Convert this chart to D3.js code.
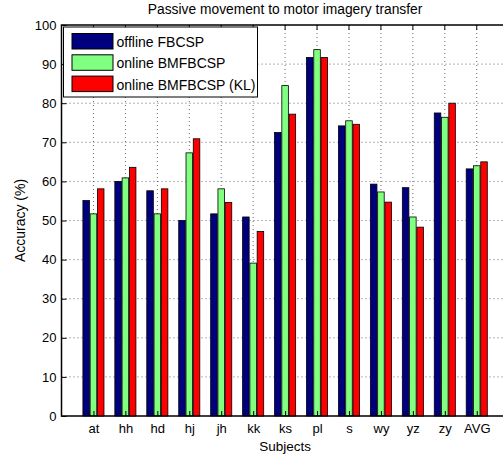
<!DOCTYPE html>
<html>
<head>
<meta charset="utf-8">
<script src="https://cdn.jsdelivr.net/npm/d3@7"></script>
<style>
  body { margin: 0; background: #fff; }
  svg { display: block; font-family: "Liberation Sans", Arial, sans-serif; }
  .grid line { stroke: #444; stroke-dasharray: 1,3; stroke-width: 0.8; }
</style>
</head>
<body>
<svg id="chart" width="503" height="462"></svg>
<script>
// data
var subjects = ["at", "hh", "hd", "hj", "jh", "kk", "ks", "pl", "s", "wy", "yz", "zy", "AVG"];
var offlineFBCSP = [55.1, 60.0, 57.6, 50.0, 51.7, 50.9, 72.5, 91.7, 74.2, 59.3, 58.4, 77.5, 63.2];
var onlineBMFBCSP = [51.7, 60.9, 51.7, 67.3, 58.1, 39.1, 84.5, 93.7, 75.5, 57.3, 50.9, 76.4, 64.0];
var onlineBMFBCSPKL = [58.1, 63.6, 58.1, 70.9, 54.6, 47.2, 77.2, 91.7, 74.6, 54.7, 48.3, 80.0, 65.0];
var seriesNames = ["offline FBCSP", "online BMFBCSP", "online BMFBCSP (KL)"];
var seriesColors = ["#00007f", "#80ff80", "#ff0000"];
var yTicks = [0, 10, 20, 30, 40, 50, 60, 70, 80, 90, 100];

var series = [offlineFBCSP, onlineBMFBCSP, onlineBMFBCSPKL];

var svg = d3.select("#chart");
var pLeft = 61.5, pRight = 508.7, pTop = 25, pBottom = 416;

var x = d3.scaleLinear().domain([0, subjects.length + 1]).range([pLeft, pRight]);
var y = d3.scaleLinear().domain([0, 100]).range([pBottom, pTop]);
var step = x(1) - x(0);
var xs = d3.scaleBand().domain(d3.range(series.length))
    .range([-step * 0.33, step * 0.33]).paddingInner(0.1);

// grid
var grid = svg.append("g").attr("class", "grid");
grid.selectAll("line.h").data(yTicks.slice(1, -1)).enter().append("line")
    .attr("x1", pLeft).attr("x2", pRight)
    .attr("y1", function (d) { return y(d); }).attr("y2", function (d) { return y(d); });
grid.selectAll("line.v").data(subjects).enter().append("line")
    .attr("x1", function (d, i) { return x(i + 1); }).attr("x2", function (d, i) { return x(i + 1); })
    .attr("y1", pTop).attr("y2", pBottom);

// bars
var groups = svg.selectAll("g.series").data(series).enter().append("g").attr("class", "series")
    .attr("fill", function (d, i) { return seriesColors[i]; });
groups.each(function (vals, si) {
    d3.select(this).selectAll("rect").data(vals).enter().append("rect")
        .attr("x", function (d, i) { return x(i + 1) + xs(si); })
        .attr("width", xs.bandwidth())
        .attr("y", function (d) { return y(d); })
        .attr("height", function (d) { return y(0) - y(d); })
        .attr("stroke", "#000").attr("stroke-width", 0.8);
});

// axes
var yAxis = d3.axisLeft(y).tickValues(yTicks).tickSize(-5).tickPadding(5);
var ya = svg.append("g").attr("transform", "translate(" + pLeft + ",0)").call(yAxis);
ya.select(".domain").remove();
ya.selectAll("text").attr("font-size", 13).attr("fill", "#000").attr("font-family", null);

var xAxis = d3.axisBottom(x).tickValues(d3.range(1, subjects.length + 1))
    .tickFormat(function (d) { return subjects[d - 1]; }).tickSize(-5).tickPadding(8);
var xa = svg.append("g").attr("transform", "translate(0," + pBottom + ")").call(xAxis);
xa.select(".domain").remove();
xa.selectAll("text").attr("font-size", 13).attr("fill", "#000").attr("font-family", null);

// top ticks
svg.append("g").selectAll("line").data(d3.range(1, subjects.length + 1)).enter().append("line")
    .attr("x1", function (d) { return x(d); }).attr("x2", function (d) { return x(d); })
    .attr("y1", pTop).attr("y2", pTop + 5).attr("stroke", "#000");

// box
svg.append("path").attr("fill", "none").attr("stroke", "#000").attr("stroke-width", 1.5)
    .attr("d", "M" + pRight + "," + pTop + "H" + pLeft + "V" + pBottom + "H" + pRight);

// labels
svg.append("text").attr("x", x(7)).attr("y", 14).attr("text-anchor", "middle")
    .attr("font-size", 13.8).text("Passive movement to motor imagery transfer");
svg.append("text").attr("x", x(7)).attr("y", 451).attr("text-anchor", "middle")
    .attr("font-size", 13.5).text("Subjects");
svg.append("text").attr("transform", "translate(25," + y(50) + ") rotate(-90)")
    .attr("text-anchor", "middle").attr("font-size", 14).text("Accuracy (%)");

// legend
var lg = svg.append("g").attr("transform", "translate(63.5,27)");
lg.append("rect").attr("width", 194).attr("height", 70)
    .attr("fill", "#fff").attr("stroke", "#000").attr("stroke-width", 1);
var items = lg.selectAll("g.item").data(seriesNames).enter().append("g").attr("class", "item")
    .attr("transform", function (d, i) { return "translate(0," + (6.5 + i * 21.3) + ")"; });
items.append("rect").attr("x", 8.5).attr("width", 41).attr("height", 15.5)
    .attr("fill", function (d, i) { return seriesColors[i]; }).attr("stroke", "#000");
items.append("text").attr("x", 53).attr("y", 13.5).attr("font-size", 14).text(function (d) { return d; });
</script>
</body>
</html>
